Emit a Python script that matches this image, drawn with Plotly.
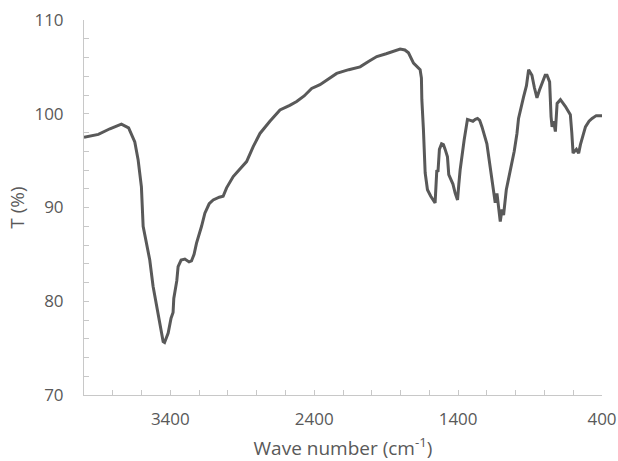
import plotly.graph_objects as go

wavenumber = [
    4000, 3900, 3820, 3740, 3690, 3647, 3624, 3601, 3589, 3570, 3543, 3520, 3496, 3470,
    3450, 3440, 3427, 3415, 3395, 3381, 3376, 3369, 3355, 3346, 3325, 3299, 3270, 3253,
    3235, 3218, 3200, 3183, 3160, 3130, 3102, 3060, 3033, 3009, 2963, 2920, 2870, 2824,
    2777, 2708, 2638, 2570, 2522, 2470, 2418, 2360, 2300, 2244, 2160, 2081, 2020, 1965,
    1900, 1850, 1803, 1770, 1745, 1710, 1680, 1664, 1655, 1652, 1641, 1635, 1629, 1613,
    1590, 1560, 1552, 1548, 1540, 1530, 1515, 1502, 1490, 1474, 1465, 1460, 1445, 1436,
    1420, 1404, 1395, 1386, 1358, 1335, 1315, 1297, 1280, 1265, 1250, 1234, 1200, 1165,
    1142, 1130, 1119, 1107, 1095, 1084, 1065, 1038, 1010, 991, 980, 945, 925, 910,
    887, 870, 852, 835, 817, 795, 782, 764, 754, 747, 736, 724, 712, 689,
    655, 620, 610, 601, 578, 562, 550, 530, 515, 490, 469, 440, 400,
]
transmittance = [
    97.5, 97.8, 98.4, 98.9, 98.5, 97.0, 95.1, 92.2, 88.0, 86.5, 84.4, 81.6, 79.5, 77.0,
    75.7, 75.6, 76.1, 76.6, 78.2, 78.8, 80.3, 80.9, 82.2, 83.7, 84.4, 84.5, 84.2, 84.3,
    85.0, 86.2, 87.0, 88.0, 89.4, 90.4, 90.8, 91.1, 91.2, 92.1, 93.3, 94.0, 94.9, 96.5,
    97.9, 99.2, 100.4, 100.9, 101.3, 101.9, 102.7, 103.1, 103.7, 104.3, 104.7, 105.0, 105.6, 106.1,
    106.4, 106.7, 106.9, 106.8, 106.5, 105.4, 105.0, 104.7, 103.8, 101.5, 98.3, 96.0, 93.7, 91.9,
    91.2, 90.5, 92.5, 94.0, 93.8, 96.2, 96.8, 96.7, 96.2, 95.4, 93.5, 93.3, 92.8, 92.5,
    91.5, 90.8, 92.5, 94.0, 97.2, 99.4, 99.3, 99.2, 99.4, 99.5, 99.3, 98.6, 96.8, 93.3,
    90.5, 91.5, 89.8, 88.5, 89.8, 89.2, 91.9, 94.0, 96.0, 97.9, 99.5, 101.8, 103.0, 104.7,
    104.1, 102.8, 101.7, 102.5, 103.3, 104.1, 104.1, 103.4, 99.7, 98.6, 99.2, 98.1, 101.1, 101.5,
    100.8, 99.9, 98.0, 95.8, 96.2, 95.8, 96.7, 97.8, 98.6, 99.2, 99.5, 99.8, 99.8,
]

x_title = "Wave number (cm<sup>-1</sup>)"
y_title = "T (%)"

axis_color = "#c8c8c8"
text_color = "#595959"
font_family = "Open Sans, Noto Sans, sans-serif"

fig = go.Figure()
fig.add_trace(go.Scatter(
    x=wavenumber, y=transmittance, mode="lines",
    line=dict(color="#595959", width=3),
    showlegend=False, hoverinfo="x+y",
))

fig.update_layout(
    width=618, height=461,
    margin=dict(l=84, r=16, t=20, b=65.5),
    paper_bgcolor="white", plot_bgcolor="white",
    font=dict(family=font_family, size=17, color=text_color),
    xaxis=dict(
        range=[4000, 400], tickmode="linear", tick0=400, dtick=1000,
        automargin=False,
        showgrid=False, zeroline=False,
        showline=True, linecolor=axis_color, linewidth=1,
        ticks="inside", ticklen=5, tickcolor=axis_color,
        minor=dict(dtick=200, tick0=400, ticks="inside", ticklen=5, tickcolor=axis_color, showgrid=False),
        title=dict(text=x_title, standoff=28, font=dict(size=19, color=text_color)),
        tickfont=dict(size=17, color=text_color),
        ticklabelstandoff=9,
    ),
    yaxis=dict(
        range=[70, 110], tickmode="linear", tick0=70, dtick=10,
        automargin=False,
        showgrid=False, zeroline=False,
        showline=True, linecolor=axis_color, linewidth=1,
        ticks="inside", ticklen=5, tickcolor=axis_color,
        minor=dict(dtick=2, tick0=70, ticks="inside", ticklen=5, tickcolor=axis_color, showgrid=False),
        title=dict(text=y_title, standoff=4, font=dict(size=19, color=text_color)),
        tickfont=dict(size=17, color=text_color),
        ticklabelstandoff=16,
    ),
)

# remove the default 8px page margin so the figure fills the 618x461 window exactly
fig.write_html(
    "out.html",
    config={"displayModeBar": False},
    post_script="document.body.style.margin='0';",
)
